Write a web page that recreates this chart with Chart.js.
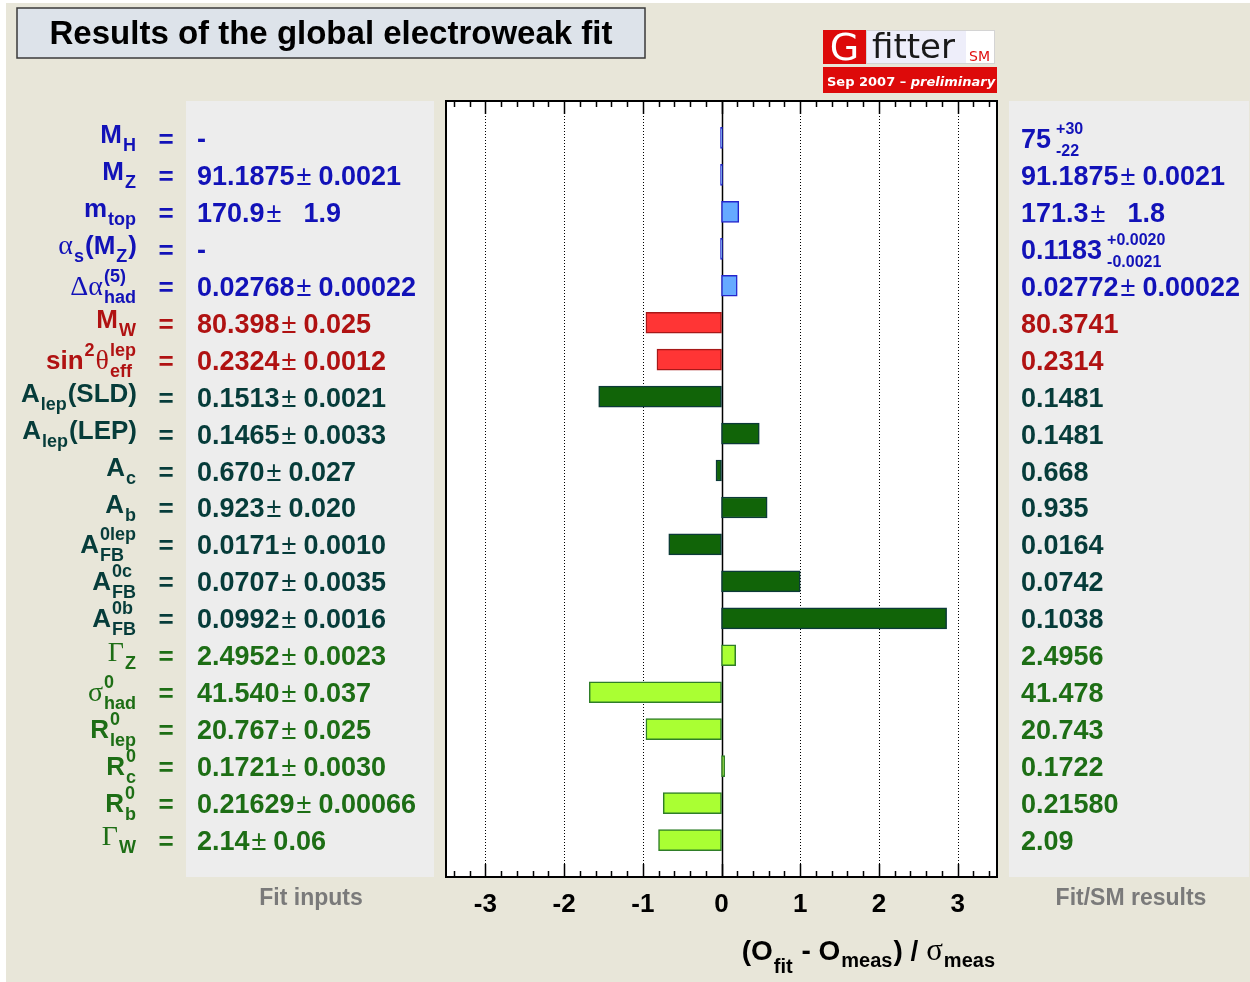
<!DOCTYPE html>
<html>
<head>
<meta charset="utf-8">
<title>Results of the global electroweak fit</title>
<script src="https://cdn.jsdelivr.net/npm/chart.js@4.4.0/dist/chart.umd.min.js"></script>
<style>
  html, body { margin: 0; padding: 0; background: #ffffff; }
  #wrap { width: 1250px; height: 982px; }
</style>
</head>
<body>
<div id="wrap"><canvas id="ewfit" width="1250" height="982"></canvas></div>
<script>
// ---- observables (TLatex-like markup: ^{} superscript, _{} subscript, #name greek) ----
const observables = [
  'M_{H}', 'M_{Z}', 'm_{top}', '#alpha_{s}(M_{Z})', '#Delta#alpha^{(5)}_{had}',
  'M_{W}', 'sin^{2}#theta^{lep}_{eff}',
  'A_{lep}(SLD)', 'A_{lep}(LEP)', 'A_{c}', 'A_{b}', 'A^{0lep}_{FB}', 'A^{0c}_{FB}', 'A^{0b}_{FB}',
  '#Gamma_{Z}', '#sigma^{0}_{had}', 'R^{0}_{lep}', 'R^{0}_{c}', 'R^{0}_{b}', '#Gamma_{W}'
];
// observable family of each row
const groups = [
  'sm', 'sm', 'sm', 'sm', 'sm',
  'w', 'w',
  'asym', 'asym', 'asym', 'asym', 'asym', 'asym', 'asym',
  'zpole', 'zpole', 'zpole', 'zpole', 'zpole', 'zpole'
];
// fit inputs
const measCentral = ['-', '91.1875', '170.9', '-', '0.02768', '80.398', '0.2324', '0.1513', '0.1465',
  '0.670', '0.923', '0.0171', '0.0707', '0.0992', '2.4952', '41.540', '20.767', '0.1721', '0.21629', '2.14'];
const measError = [null, '0.0021', '  1.9', null, '0.00022', '0.025', '0.0012', '0.0021', '0.0033',
  '0.027', '0.020', '0.0010', '0.0035', '0.0016', '0.0023', '0.037', '0.025', '0.0030', '0.00066', '0.06'];
// fit / SM results
const fitCentral = ['75', '91.1875', '171.3', '0.1183', '0.02772', '80.3741', '0.2314', '0.1481', '0.1481',
  '0.668', '0.935', '0.0164', '0.0742', '0.1038', '2.4956', '41.478', '20.743', '0.1722', '0.21580', '2.09'];
const fitError = [null, '0.0021', '  1.8', null, '0.00022', null, null, null, null,
  null, null, null, null, null, null, null, null, null, null, null];
const fitErrorUp = ['+30', null, null, '+0.0020', null, null, null, null, null,
  null, null, null, null, null, null, null, null, null, null, null];
const fitErrorDown = ['-22', null, null, '-0.0021', null, null, null, null, null,
  null, null, null, null, null, null, null, null, null, null, null];
// pulls (O_fit - O_meas) / sigma_meas
const pulls = [0, 0, 0.22, 0, 0.2, -0.96, -0.82, -1.56, 0.48, -0.07, 0.58, -0.67, 1.0, 2.86,
  0.18, -1.68, -0.96, 0.04, -0.74, -0.8];
const xTickLabels = ['-3', '-2', '-1', '0', '1', '2', '3'];

// ---- styles ----
const palette = {
  sm:    { text: '#1212b8', fill: '#66aaff', border: '#2424cc' },
  w:     { text: '#b01212', fill: '#ff3535', border: '#a81818' },
  asym:  { text: '#063c3a', fill: '#116408', border: '#0c3a38' },
  zpole: { text: '#1d6e15', fill: '#aaff33', border: '#2f7e28' }
};
const COL = {
  page: '#e8e6d9', panel: '#ededed', titleFill: '#dde3ea', titleBorder: '#3a3a3a',
  caption: '#7a7a7a', axis: '#000000', gRed: '#dd0a0a'
};
const SANS = '"Liberation Sans", Arial, Helvetica, sans-serif';
const SERIF = '"Liberation Serif", "Times New Roman", serif';
const LOGO = '"DejaVu Sans", Verdana, sans-serif';
const VALUE_SIZE = 27;

const GREEK = { alpha: 'α', Delta: 'Δ', theta: 'θ', Gamma: 'Γ', sigma: 'σ' };

function parseTex(src) {
  const out = [];
  let i = 0;
  const group = () => {
    if (src[i] !== '{') return src[i++];
    let depth = 0, j = i;
    for (; j < src.length; j++) {
      if (src[j] === '{') depth++;
      else if (src[j] === '}' && --depth === 0) break;
    }
    const g = src.slice(i + 1, j);
    i = j + 1;
    return g;
  };
  while (i < src.length) {
    const ch = src[i];
    if (ch === '^' || ch === '_') {
      i++;
      const g = group();
      const key = ch === '^' ? 'sup' : 'sub';
      const prev = out[out.length - 1];
      if (prev && prev.script && prev[key] == null) prev[key] = g;
      else out.push({ script: true, [key]: g });
    } else if (ch === '#') {
      let j = i + 1;
      while (j < src.length && /[A-Za-z]/.test(src[j])) j++;
      out.push({ text: GREEK[src.slice(i + 1, j)], greek: true });
      i = j;
    } else {
      const prev = out[out.length - 1];
      if (prev && !prev.script && !prev.greek) prev.text += ch;
      else out.push({ text: ch });
      i++;
    }
  }
  return out;
}

// draws markup text; y is the vertical centre when st.center, the baseline otherwise
function drawTex(ctx, src, x, y, st) {
  const items = parseTex(src);
  const mainFont = `bold ${st.size}px ${SANS}`;
  const greekFont = `${st.greekSize || st.size + 2}px ${SERIF}`;
  const scriptFont = `bold ${st.scriptSize}px ${SANS}`;
  const gap = st.scriptGap || 1;
  let w = 0;
  for (const it of items) {
    if (it.script) {
      ctx.font = scriptFont;
      it.w = Math.max(it.sup ? ctx.measureText(it.sup).width : 0,
                      it.sub ? ctx.measureText(it.sub).width : 0) + gap + 1;
    } else {
      ctx.font = it.greek ? greekFont : mainFont;
      it.w = ctx.measureText(it.text).width;
    }
    w += it.w;
  }
  let cx = st.align === 'right' ? x - w : st.align === 'center' ? x - w / 2 : x;
  let base = y;
  if (st.center) {
    const hasSup = items.some(it => it.sup);
    const hasSub = items.some(it => it.sub);
    const top = hasSup ? st.supDy - 0.72 * st.scriptSize : -0.72 * st.size;
    const bottom = hasSub ? st.subDy : 0;
    base = y - (top + bottom) / 2;
  }
  ctx.textAlign = 'left';
  ctx.textBaseline = 'alphabetic';
  ctx.fillStyle = st.color;
  for (const it of items) {
    if (it.script) {
      ctx.font = scriptFont;
      if (it.sup) ctx.fillText(it.sup, cx + gap, base + st.supDy);
      if (it.sub) ctx.fillText(it.sub, cx + gap, base + (st.subDyFor ? st.subDyFor(it.sub) : st.subDy));
    } else {
      ctx.font = it.greek ? greekFont : mainFont;
      ctx.fillText(it.text, cx, base);
    }
    cx += it.w;
  }
}

// "central ± error" with a light plus-minus sign
function drawValue(ctx, central, err, x, base, color) {
  ctx.textAlign = 'left';
  ctx.textBaseline = 'alphabetic';
  ctx.fillStyle = color;
  ctx.font = `bold ${VALUE_SIZE}px ${SANS}`;
  ctx.fillText(central, x, base);
  if (err == null) return x + ctx.measureText(central).width;
  let cx = x + ctx.measureText(central).width + 2;
  ctx.font = `${VALUE_SIZE}px ${SANS}`;
  ctx.fillText('±', cx, base);
  cx += ctx.measureText('±').width + 7;
  ctx.font = `bold ${VALUE_SIZE}px ${SANS}`;
  ctx.fillText(err, cx, base);
  return cx + ctx.measureText(err).width;
}

const layoutPlugin = {
  id: 'ewLayout',
  beforeDraw(chart) {
    const { ctx, chartArea: a } = chart;
    const W = chart.width, H = chart.height;
    ctx.save();
    ctx.fillStyle = '#ffffff';
    ctx.fillRect(0, 0, W, H);
    ctx.fillStyle = COL.page;
    ctx.fillRect(6, 3, W - 6, H - 3);

    // title box
    ctx.fillStyle = COL.titleFill;
    ctx.fillRect(17, 8, 628, 50);
    ctx.strokeStyle = COL.titleBorder;
    ctx.lineWidth = 1.5;
    ctx.strokeRect(17, 8, 628, 50);
    ctx.fillStyle = '#000000';
    ctx.font = `bold 33px ${SANS}`;
    ctx.textAlign = 'center';
    ctx.textBaseline = 'alphabetic';
    ctx.fillText('Results of the global electroweak fit', 331, 44);

    // Gfitter logo
    ctx.fillStyle = COL.gRed;
    ctx.fillRect(823, 30, 43, 34);
    ctx.fillStyle = '#eeeefa';
    ctx.fillRect(866, 30, 100, 34);
    ctx.fillStyle = '#ffffff';
    ctx.fillRect(966, 30, 29, 34);
    ctx.strokeStyle = '#d4d4d4';
    ctx.lineWidth = 1;
    ctx.strokeRect(866.5, 30.5, 128, 33);
    ctx.fillStyle = '#ffffff';
    ctx.font = `38px ${LOGO}`;
    ctx.fillText('G', 844.5, 60);
    ctx.fillStyle = '#1a1a1a';
    ctx.font = `34px ${LOGO}`;
    ctx.textAlign = 'left';
    ctx.fillText('fitter', 872, 58);
    ctx.fillStyle = '#e01010';
    ctx.font = `14px ${LOGO}`;
    ctx.fillText('SM', 969, 61);
    ctx.fillStyle = COL.gRed;
    ctx.fillRect(823, 67, 174, 26);
    ctx.fillStyle = '#ffffff';
    ctx.font = `bold 13px ${LOGO}`;
    const pre = 'Sep 2007 – ';
    ctx.fillText(pre, 827, 86);
    const pw = ctx.measureText(pre).width;
    ctx.font = `italic bold 13px ${LOGO}`;
    ctx.fillText('preliminary', 827 + pw, 86);

    // side panels and plot area
    ctx.fillStyle = COL.panel;
    ctx.fillRect(186, a.top, 248, a.bottom - a.top);
    ctx.fillRect(1009, a.top, 240, a.bottom - a.top);
    ctx.fillStyle = '#ffffff';
    ctx.fillRect(a.left, a.top, a.right - a.left, a.bottom - a.top);
    ctx.restore();
  },
  beforeDatasetsDraw(chart) {
    const { ctx, chartArea: a, scales: { x } } = chart;
    ctx.save();
    // dotted grid at the integer ticks, solid line at zero
    for (const t of x.ticks) {
      const v = t.value;
      if (Math.abs(v - Math.round(v)) > 1e-6) continue;
      const px = Math.round(x.getPixelForValue(v)) + 0.5;
      ctx.beginPath();
      ctx.strokeStyle = COL.axis;
      if (Math.round(v) === 0) {
        ctx.setLineDash([]);
        ctx.lineWidth = 1.5;
      } else {
        ctx.setLineDash([1, 2]);
        ctx.lineWidth = 1;
      }
      ctx.moveTo(px, a.top);
      ctx.lineTo(px, a.bottom);
      ctx.stroke();
    }
    ctx.restore();
  },
  afterDatasetsDraw(chart) {
    const { ctx, chartArea: a, scales: { x, y } } = chart;
    ctx.save();
    // frame
    ctx.strokeStyle = COL.axis;
    ctx.lineWidth = 2;
    ctx.setLineDash([]);
    ctx.strokeRect(a.left, a.top, a.right - a.left, a.bottom - a.top);
    // inward ticks, top and bottom (every 0.2)
    ctx.lineWidth = 1.5;
    for (const t of x.ticks) {
      const v = t.value;
      if (Math.abs(v * 5 - Math.round(v * 5)) > 1e-6) continue;
      if (v <= x.min + 1e-6 || v >= x.max - 1e-6) continue;
      const major = Math.abs(v - Math.round(v)) < 1e-6;
      const len = major ? 13 : 6;
      const px = Math.round(x.getPixelForValue(v)) + 0.5;
      ctx.beginPath();
      ctx.moveTo(px, a.top);
      ctx.lineTo(px, a.top + len);
      ctx.moveTo(px, a.bottom);
      ctx.lineTo(px, a.bottom - len);
      ctx.stroke();
    }
    // tick labels
    ctx.fillStyle = '#000000';
    ctx.font = `bold 26px ${SANS}`;
    ctx.textAlign = 'center';
    ctx.textBaseline = 'alphabetic';
    for (const lab of xTickLabels) {
      const px = x.getPixelForValue(Number(lab));
      ctx.fillText(lab, px, a.bottom + 35);
    }
    // axis title
    drawTex(ctx, '(O_{fit} - O_{meas}) / #sigma_{meas}', a.right - 1, a.bottom + 83,
      { size: 28, scriptSize: 20, greekSize: 31, supDy: -13, subDy: 7,
        subDyFor: s => (s === 'fit' ? 13 : 7),
        align: 'right', color: '#000000', scriptGap: 1 });

    // per-row labels, inputs and fit results
    observables.forEach((name, i) => {
      const cy = y.getPixelForValue(i + 1);
      const col = palette[groups[i]].text;
      drawTex(ctx, name, 137, cy,
        { size: 26, scriptSize: 18, supDy: -13, subDy: 8, align: 'right', center: true, color: col });
      ctx.fillStyle = col;
      ctx.font = `bold 26px ${SANS}`;
      ctx.textAlign = 'center';
      ctx.fillText('=', 166, cy + 10);
      drawValue(ctx, measCentral[i], measError[i], 197, cy + 10, col);
      if (fitErrorUp[i] != null) {
        drawTex(ctx, `${fitCentral[i]}^{${fitErrorUp[i]}}_{${fitErrorDown[i]}}`, 1021, cy + 10,
          { size: VALUE_SIZE, scriptSize: 16, supDy: -14, subDy: 8, align: 'left', color: col, scriptGap: 5 });
      } else {
        drawValue(ctx, fitCentral[i], fitError[i], 1021, cy + 10, col);
      }
    });

    // panel captions
    ctx.fillStyle = COL.caption;
    ctx.font = `bold 23px ${SANS}`;
    ctx.textAlign = 'center';
    ctx.fillText('Fit inputs', 311, 905);
    ctx.fillText('Fit/SM results', 1131, 905);
    ctx.restore();
  }
};

const pick = (c, key) => palette[groups[c.dataIndex] || 'sm'][key];

// axes stay active for the mapping, their own decorations are switched off
const quietAxis = {
  offset: false,
  grid: { display: false, drawTicks: false },
  border: { display: false },
  title: { display: false }
};

new Chart(document.getElementById('ewfit'), {
  type: 'bar',
  data: {
    datasets: [{
      label: '(O_fit - O_meas) / sigma_meas',
      data: pulls.map((v, i) => ({ x: v, y: i + 1 })),
      backgroundColor: c => pick(c, 'fill'),
      borderColor: c => pick(c, 'border'),
      borderWidth: 1.5,
      borderSkipped: false,
      barThickness: 21,
      minBarLength: 2
    }]
  },
  options: {
    indexAxis: 'y',
    responsive: false,
    animation: false,
    devicePixelRatio: 1,
    layout: { padding: { left: 446, right: 253, top: 101, bottom: 105 } },
    scales: {
      x: Object.assign({ type: 'linear', position: 'bottom', min: -3.5, max: 3.5,
        ticks: { display: false, stepSize: 0.1, autoSkip: false } }, quietAxis),
      y: Object.assign({ type: 'linear', position: 'left', min: 0, max: 21, reverse: true,
        ticks: { display: false } }, quietAxis)
    },
    plugins: { legend: { display: false }, tooltip: { enabled: false } }
  },
  plugins: [layoutPlugin]
});
</script>
</body>
</html>
